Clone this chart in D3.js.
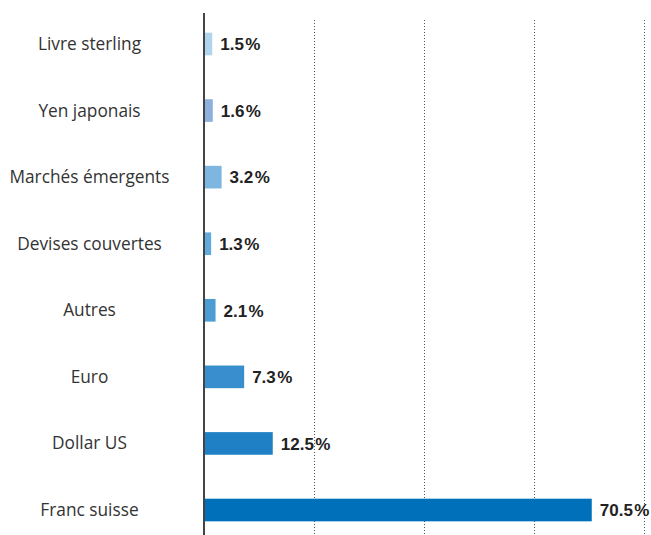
<!DOCTYPE html>
<html>
<head>
<meta charset="utf-8">
<script src="https://cdn.jsdelivr.net/npm/d3@7/dist/d3.min.js"></script>
<style>
  html, body { margin: 0; padding: 0; background: #fff; }
  svg { display: block; }
</style>
</head>
<body>
<svg id="chart" width="651" height="535"></svg>
<script>
// Currency allocation, in percent
const categories = ["Livre sterling", "Yen japonais", "Marchés émergents", "Devises couvertes", "Autres", "Euro", "Dollar US", "Franc suisse"];
const values = [1.5, 1.6, 3.2, 1.3, 2.1, 7.3, 12.5, 70.5];
const barColors = ["#b3d4ee", "#8eb0dd", "#7db6e0", "#63aadc", "#4c9dd3", "#398ecd", "#1f80c5", "#0070bb"];
const gridTicks = [20, 40, 60, 80];

const svg = d3.select("#chart");

const x = d3.scaleLinear().domain([0, 80]).range([204, 644]);
const y = d3.scaleBand().domain(categories).range([10.7, 543.3])
  .paddingInner(0.66).paddingOuter(0.33);

// dotted vertical gridlines
svg.append("g").selectAll("line").data(gridTicks).join("line")
  .attr("x1", d => Math.round(x(d)) + 0.5).attr("x2", d => Math.round(x(d)) + 0.5)
  .attr("y1", 20).attr("y2", 535)
  .attr("stroke", "#555").attr("stroke-width", 1)
  .attr("stroke-dasharray", "1,2");

// bars
svg.append("g").selectAll("rect").data(categories).join("rect")
  .attr("x", x(0))
  .attr("y", d => y(d))
  .attr("width", (d, i) => x(values[i]) - x(0))
  .attr("height", y.bandwidth())
  .attr("fill", (d, i) => barColors[i]);

// baseline axis
svg.append("line")
  .attr("x1", x(0)).attr("x2", x(0))
  .attr("y1", 13).attr("y2", 535)
  .attr("stroke", "#444").attr("stroke-width", 2);

// category labels
svg.append("g").selectAll("text").data(categories).join("text")
  .attr("x", 89.5)
  .attr("y", d => y(d) + y.bandwidth() / 2)
  .attr("dy", "0.35em")
  .attr("text-anchor", "middle")
  .attr("font-family", "'Open Sans', 'Noto Sans', sans-serif")
  .attr("font-size", 17.3)
  .attr("fill", "#333")
  .text(d => d);

// value labels
svg.append("g").selectAll("text").data(categories).join("text")
  .attr("x", (d, i) => x(values[i]) + 8)
  .attr("y", d => y(d) + y.bandwidth() / 2)
  .attr("dy", "0.37em")
  .attr("font-family", "'Liberation Sans Narrow', 'Arial Narrow', 'Liberation Sans', sans-serif")
  .attr("font-weight", "bold")
  .attr("font-size", 17)
  .attr("fill", "#222")
  .text((d, i) => values[i].toFixed(1) + "\u200a%");
</script>
</body>
</html>
